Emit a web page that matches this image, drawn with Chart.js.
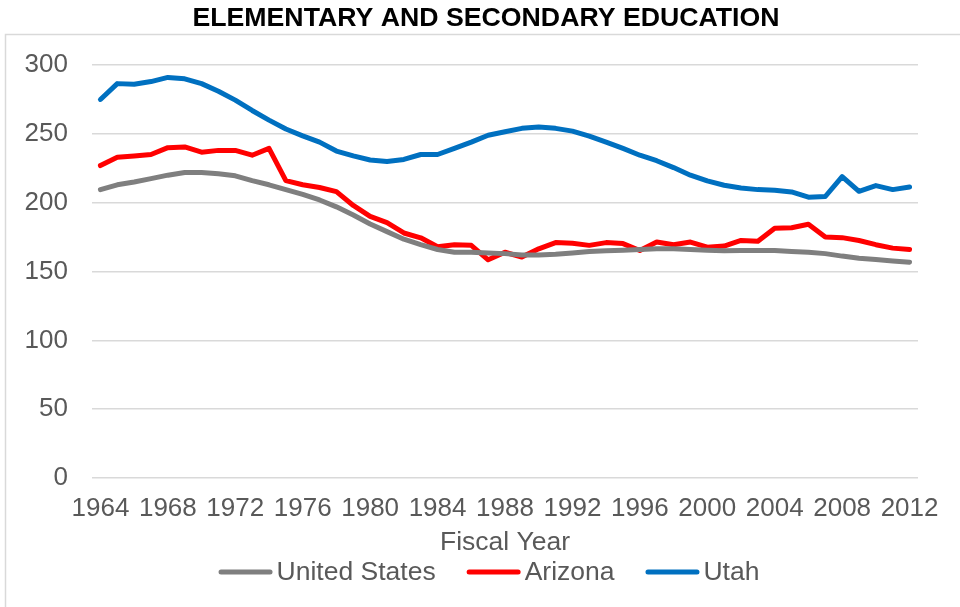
<!DOCTYPE html>
<html>
<head>
<meta charset="utf-8">
<script src="https://cdn.jsdelivr.net/npm/chart.js@4"></script>
<style>
  body { margin: 0; background: #fff; }
  #wrap { width: 960px; height: 607px; }
</style>
</head>
<body>
<div id="wrap"><canvas id="chart" width="960" height="607"></canvas></div>
<script>
// fiscal years 1964 - 2012
const years = [];
for (let y = 1964; y <= 2012; y++) years.push(String(y));

const unitedStates = [
  209.5, 213, 215, 217.5, 220, 222, 222, 221, 219.5, 216,
  213, 209.5, 206, 202, 197, 191, 184.5, 179, 173.5, 169.5,
  166, 164, 164, 163.5, 163, 162, 162, 162.5, 163.5, 164.5,
  165, 165.5, 166, 166.5, 166.5, 166, 165.5, 165, 165.3, 165.3,
  165.3, 164.6, 164, 163, 161.2, 159.7, 158.7, 157.7, 156.8
];
const arizona = [
  227, 233, 234, 235, 240, 240.5, 236.7, 238, 238, 234.5,
  239.5, 216, 213, 211, 208, 198, 190, 185.5, 178, 174.5,
  168, 169.5, 169, 158.5, 164, 160.5, 166.5, 171, 170.5, 169,
  171, 170.3, 165.3, 171.5, 169.5, 171.4, 167.7, 168.5, 172.6, 172,
  181.5, 181.8, 184.3, 175, 174.6, 172.5, 169.5, 167, 166
];
const utah = [
  275, 286.5, 286, 288, 291, 290, 286.5, 281, 274.5, 267,
  260, 253.5, 248.5, 244, 237.5, 234, 231, 230, 231.4, 235,
  235, 239.4, 244, 249, 251.5, 254, 255, 254, 252, 248.4,
  244, 239.4, 234.5, 230.5, 225.5, 220, 215.8, 212.7, 210.7, 209.5,
  209, 207.8, 204, 204.5, 219, 208.3, 212.4, 209.5, 211.4
];

const textColor = '#595959';
const gridColor = '#d9d9d9';
const fontFamily = 'Liberation Sans, Arial, sans-serif';

// light frame around the plot like the excel chart area
const framePlugin = {
  id: 'frame',
  beforeDraw(chart) {
    const ctx = chart.ctx;
    ctx.save();
    ctx.fillStyle = '#fff';
    ctx.fillRect(0, 0, chart.width, chart.height);
    ctx.strokeStyle = gridColor;
    ctx.lineWidth = 1.5;
    ctx.strokeRect(5.5, 34.5, 1000, 1000);
    ctx.restore();
  }
};

// excel style legend: short line, text right next to it
const lineLegend = {
  id: 'lineLegend',
  afterDraw(chart) {
    const ctx = chart.ctx;
    const sw = 54, gap = 4, itemGap = 31, cy = 572;
    ctx.save();
    ctx.font = '26.5px ' + fontFamily;
    const items = chart.data.datasets.map(ds => ({
      label: ds.label, color: ds.borderColor, w: ctx.measureText(ds.label).width
    }));
    let total = items.reduce((s, it) => s + sw + gap + it.w, 0) + itemGap * (items.length - 1);
    let x = chart.width / 2 + 9 - total / 2;
    ctx.textBaseline = 'middle';
    ctx.lineCap = 'round';
    items.forEach(it => {
      ctx.strokeStyle = it.color;
      ctx.lineWidth = 5;
      ctx.beginPath();
      ctx.moveTo(x + 2.5, cy);
      ctx.lineTo(x + sw - 2.5, cy);
      ctx.stroke();
      ctx.fillStyle = textColor;
      ctx.fillText(it.label, x + sw + gap, cy + 1);
      x += sw + gap + it.w + itemGap;
    });
    ctx.restore();
  }
};

function series(label, data, color) {
  return {
    label: label,
    data: data,
    borderColor: color,
    backgroundColor: color,
    borderWidth: 5,
    pointRadius: 0,
    tension: 0,
    borderCapStyle: 'round',
    borderJoinStyle: 'round'
  };
}

new Chart(document.getElementById('chart'), {
  type: 'line',
  data: {
    labels: years,
    datasets: [
      series('United States', unitedStates, '#7f7f7f'),
      series('Arizona', arizona, '#ff0000'),
      series('Utah', utah, '#0070c0')
    ]
  },
  options: {
    responsive: false,
    animation: false,
    layout: { padding: { left: 12, right: 0, top: 0, bottom: 48 } },
    plugins: {
      title: {
        display: true,
        text: 'ELEMENTARY AND SECONDARY EDUCATION',
        color: '#000',
        font: { family: fontFamily, size: 26.7, weight: 'bold' },
        padding: { top: 3, bottom: 30 }
      },
      legend: { display: false },
      tooltip: { enabled: false }
    },
    scales: {
      x: {
        offset: true,
        grid: { display: false, drawTicks: false },
        border: { display: false },
        ticks: {
          color: textColor,
          font: { family: fontFamily, size: 26 },
          autoSkip: false,
          maxRotation: 0,
          padding: 15,
          callback(value, index) {
            return index % 4 === 0 ? years[index] : '';
          }
        },
        title: {
          display: true,
          text: 'Fiscal Year',
          color: textColor,
          font: { family: fontFamily, size: 26.5 },
          padding: { top: -12, bottom: 0 }
        }
      },
      y: {
        min: 0,
        max: 300,
        grid: { color: gridColor, lineWidth: 1.5, drawTicks: false },
        border: { display: false },
        ticks: {
          stepSize: 50,
          color: textColor,
          font: { family: fontFamily, size: 26 },
          padding: 24
        },
        afterFit(scale) { scale.width = 80; }
      },
      // empty right axis, only keeps the right margin of the plot
      yRight: {
        position: 'right',
        display: true,
        grid: { display: false, drawTicks: false },
        border: { display: false },
        ticks: { display: false },
        afterFit(scale) { scale.width = 42; }
      }
    }
  },
  plugins: [framePlugin, lineLegend]
});
</script>
</body>
</html>
